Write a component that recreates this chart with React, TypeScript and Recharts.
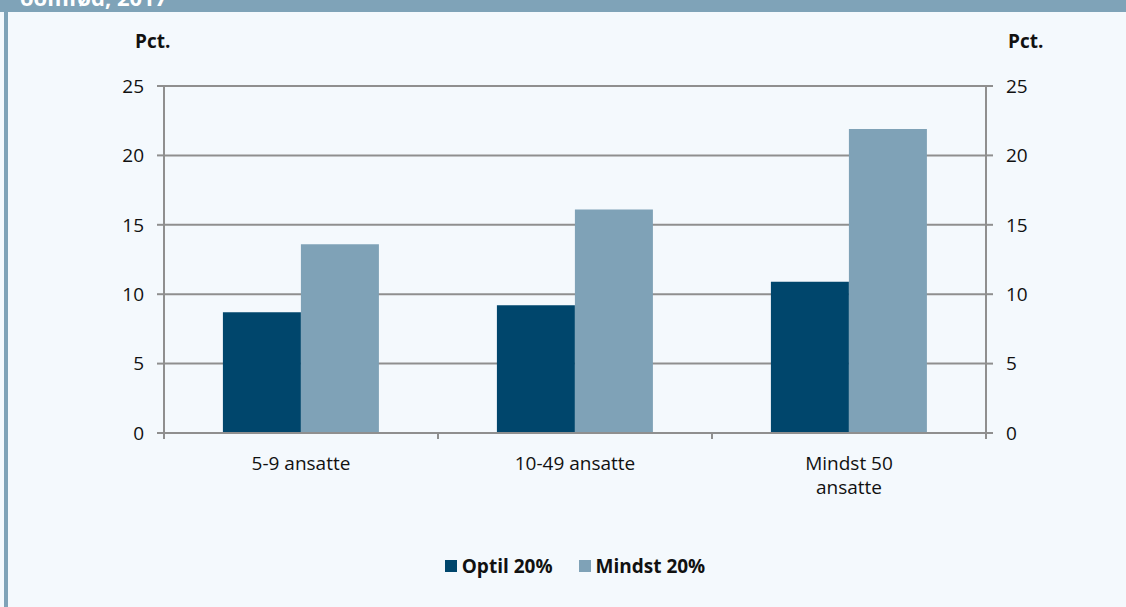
import React from 'react';
import { BarChart, Bar, XAxis, YAxis, CartesianGrid, Legend } from 'recharts';

const categories = ['5-9 ansatte', '10-49 ansatte', 'Mindst 50 ansatte'];
const optil20 = [8.7, 9.2, 10.9];
const mindst20 = [13.6, 16.1, 21.9];
const yTicks = [0, 5, 10, 15, 20, 25];
const seriesNames = ['Optil 20%', 'Mindst 20%'];
const axisTitle = 'Pct.';
const headerText = 'oomfød, 2017';

const data = categories.map((c, i) => ({ name: c, optil: optil20[i], mindst: mindst20[i] }));

const W = 1126;
const H = 607;
const LEFT_W = 164;
const RIGHT_W = 140;
const TOP = 86;
const XAXIS_H = 174;
const PLOT_W = W - LEFT_W - RIGHT_W;
const BAND_HALF = PLOT_W / categories.length / 2;

const FONT = "'Open Sans', sans-serif";
const BG = '#f4f9fd';
const FRAME = '#7fa3b8';
const DARK = '#00466c';
const LIGHT = '#7fa2b7';
const GRID = '#8f8f8f';
const TEXT = '#111111';

function wrapLabel(label: string, max: number): string[] {
  const words = label.split(' ');
  const lines: string[] = [];
  let cur = '';
  words.forEach((w) => {
    const next = cur ? cur + ' ' + w : w;
    if (next.length > max && cur) {
      lines.push(cur);
      cur = w;
    } else {
      cur = next;
    }
  });
  if (cur) lines.push(cur);
  return lines;
}

const CategoryTick = (props: any) => {
  const { x, y, payload, index } = props;
  const lines = wrapLabel(String(payload.value), 13);
  const isLast = index === categories.length - 1;
  return (
    <g>
      <line x1={x - BAND_HALF} x2={x - BAND_HALF} y1={y} y2={y + 6} stroke={GRID} strokeWidth={2} />
      {isLast && (
        <line x1={x + BAND_HALF} x2={x + BAND_HALF} y1={y} y2={y + 6} stroke={GRID} strokeWidth={2} />
      )}
      {lines.map((l, i) => (
        <text
          key={i}
          x={x}
          y={y + 37 + i * 24}
          textAnchor="middle"
          fontSize={19}
          fill={TEXT}
          fontFamily={FONT}
        >
          {l}
        </text>
      ))}
    </g>
  );
};

const AxisTitle = (props: any) => {
  const { viewBox, side } = props;
  const vb = viewBox || {};
  const x = side === 'left' ? vb.x + vb.width - 29 : vb.x + 22;
  return (
    <text x={x} y={vb.y - 38} fontSize={19} fontWeight={700} fill={TEXT} fontFamily={FONT}>
      {axisTitle}
    </text>
  );
};

const LegendContent = () => {
  const colors = [DARK, LIGHT];
  return (
    <div
      style={{
        display: 'flex',
        justifyContent: 'center',
        alignItems: 'center',
        gap: 26,
        fontFamily: FONT,
        fontSize: 19,
        fontWeight: 700,
        color: TEXT,
        lineHeight: '20px',
      }}
    >
      {seriesNames.map((n, i) => (
        <div key={n} style={{ display: 'flex', alignItems: 'center' }}>
          <span style={{ display: 'inline-block', width: 12, height: 12, background: colors[i], marginRight: 5 }} />
          <span>{n}</span>
        </div>
      ))}
    </div>
  );
};

const axisStyle = {
  domain: [0, 25] as [number, number],
  ticks: yTicks,
  interval: 0 as const,
  tickSize: 7,
  tickMargin: 13,
  axisLine: { stroke: GRID, strokeWidth: 2 },
  tickLine: { stroke: GRID, strokeWidth: 2 },
  tick: { fill: TEXT, fontSize: 19, fontFamily: FONT },
};

export default function App() {
  return (
    <div style={{ position: 'fixed', left: 0, top: 0, width: W, height: H, background: BG, overflow: 'hidden' }}>
      <div style={{ position: 'absolute', left: 0, top: 0, width: W, height: 12, background: FRAME }} />
      <div style={{ position: 'absolute', left: 4, top: 0, width: 4, height: H, background: FRAME }} />
      <div
        style={{
          position: 'absolute',
          left: 20,
          top: -16,
          color: '#ffffff',
          fontFamily: FONT,
          fontWeight: 700,
          fontSize: 22,
          lineHeight: '26px',
          whiteSpace: 'nowrap',
        }}
      >
        {headerText}
      </div>
      <div style={{ position: 'absolute', left: 0, top: 0 }}>
        <BarChart
          width={W}
          height={H}
          data={data}
          margin={{ top: TOP, right: 0, bottom: 0, left: 0 }}
          barCategoryGap="21.5%"
          barGap={0}
          style={{ fontFamily: FONT }}
        >
          <CartesianGrid vertical={false} stroke={GRID} strokeWidth={2} yAxisId="l" />
          <XAxis
            dataKey="name"
            height={XAXIS_H}
            axisLine={{ stroke: GRID, strokeWidth: 2 }}
            tickLine={false}
            tickSize={0}
            tickMargin={0}
            interval={0}
            tick={<CategoryTick />}
          />
          <YAxis yAxisId="l" orientation="left" width={LEFT_W} {...axisStyle} label={<AxisTitle side="left" />} />
          <YAxis yAxisId="r" orientation="right" width={RIGHT_W} {...axisStyle} label={<AxisTitle side="right" />} />
          <Legend
            layout="horizontal"
            verticalAlign="middle"
            align="center"
            content={<LegendContent />}
            wrapperStyle={{ position: 'absolute', left: LEFT_W, top: 556, width: PLOT_W }}
          />
          <Bar yAxisId="l" dataKey="optil" name={seriesNames[0]} fill={DARK} isAnimationActive={false} />
          <Bar yAxisId="r" dataKey="mindst" name={seriesNames[1]} fill={LIGHT} isAnimationActive={false} />
        </BarChart>
      </div>
    </div>
  );
}
